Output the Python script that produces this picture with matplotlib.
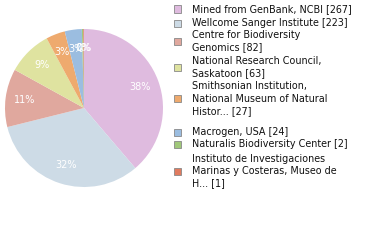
import matplotlib
matplotlib.use("Agg")
import matplotlib.pyplot as plt
from matplotlib.patches import Rectangle

labels = [
    "Mined from GenBank, NCBI [267]",
    "Wellcome Sanger Institute [223]",
    "Centre for Biodiversity\nGenomics [82]",
    "National Research Council,\nSaskatoon [63]",
    "Smithsonian Institution,\nNational Museum of Natural\nHistor... [27]",
    "Macrogen, USA [24]",
    "Naturalis Biodiversity Center [2]",
    "Instituto de Investigaciones\nMarinas y Costeras, Museo de\nH... [1]",
]
counts = [267, 223, 82, 63, 27, 24, 2, 1]
colors = ["#dfbbdf", "#cddbe6", "#e0a89e", "#dfe3a0", "#eeaa6e", "#9bbde0", "#a0c87a", "#e07b5f"]

W, H = 380, 240
fig = plt.figure(figsize=(W / 100, H / 100), dpi=100)

# pie: center (84,108), radius 79 px
r = 79
ax = fig.add_axes([(84 - r) / W, 1 - (108 + r) / H, 2 * r / W, 2 * r / H])
ax.pie(counts, colors=colors, startangle=90, counterclock=False,
       autopct=lambda p: f"{int(p)}%", pctdistance=0.76,
       textprops=dict(color="white", fontsize=7),
       wedgeprops=dict(linewidth=0))
ax.set_xlim(-1, 1)
ax.set_ylim(-1, 1)
ax.set_aspect("equal")

# legend drawn by hand
box_y = [9, 23, 41, 67, 99, 132, 144, 171]
line_h = 12.5
for lab, col, by in zip(labels, colors, box_y):
    lines = lab.split("\n")
    fig.patches.append(Rectangle((174 / W, 1 - (by + 3.5) / H), 7 / W, 7 / H,
                                 transform=fig.transFigure, facecolor=col,
                                 edgecolor="#888888", linewidth=0.6))
    y0 = by - (len(lines) - 1) * line_h / 2
    for i, ln in enumerate(lines):
        fig.text(192 / W, 1 - (y0 + i * line_h) / H, ln, fontsize=6.9,
                 va="center", ha="left", color="#111111")

fig.savefig("out.png", dpi=100)
